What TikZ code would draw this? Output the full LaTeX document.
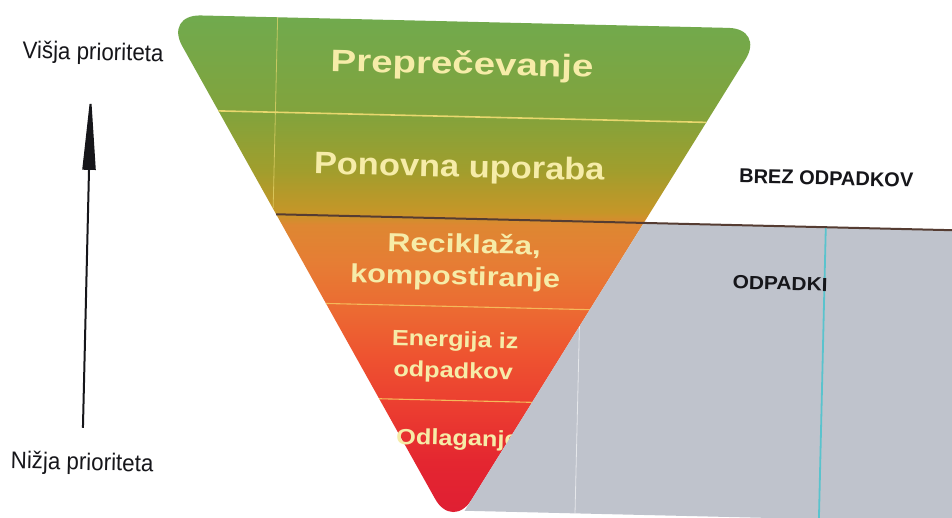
\documentclass[tikz,border=0pt]{standalone}
\usepackage{fontspec}
\setmainfont{Liberation Sans}
\usetikzlibrary{arrows.meta}
\definecolor{gA}{RGB}{112,170,78}
\definecolor{gB}{RGB}{130,163,60}
\definecolor{gC}{RGB}{160,158,45}
\definecolor{gD}{RGB}{198,150,40}
\definecolor{oA}{RGB}{222,135,50}
\definecolor{oB}{RGB}{230,125,52}
\definecolor{oC}{RGB}{236,105,50}
\definecolor{rA}{RGB}{238,82,48}
\definecolor{rB}{RGB}{235,60,48}
\definecolor{rC}{RGB}{228,38,48}
\definecolor{rD}{RGB}{222,28,52}
\definecolor{bandtext}{RGB}{246,236,168}
\definecolor{greyfill}{RGB}{191,195,204}
\definecolor{darkline}{RGB}{85,60,50}
\definecolor{cyanline}{RGB}{90,195,205}
\definecolor{paleline}{RGB}{232,215,110}
\definecolor{warmline}{RGB}{245,185,90}
\definecolor{inkcol}{RGB}{22,22,26}
\pgfdeclareverticalshading{wastegrad}{100bp}{color(0bp)=(rD); color(25bp)=(rD); color(31.6bp)=(rC); color(36.6bp)=(rB); color(41.7bp)=(rA); color(46.1bp)=(oC); color(50.9bp)=(oB); color(54.6bp)=(oA); color(55.8bp)=(gD); color(60bp)=(gC); color(65.4bp)=(gB); color(75bp)=(gA); color(100bp)=(gA)}
\begin{document}
\begin{tikzpicture}[x=1pt,y=1pt,
  bandlbl/.style={font=\bfseries\fontsize{#1}{#1}\selectfont, text=bandtext, inner sep=0pt, anchor=base},
  sidelbl/.style={font=\fontsize{24}{24}\selectfont, text=inkcol, inner sep=0pt, anchor=base},
  zonelbl/.style={font=\bfseries\fontsize{#1}{#1}\selectfont, text=inkcol, inner sep=0pt, anchor=base},
  thinband/.style={draw=#1, line width=1.1pt},
  foldline/.style={draw=paleline, line width=0.8pt, opacity=0.7}]
\fill[white] (0,0) rectangle (952,-518);
\useasboundingbox (0,0) rectangle (952,-518);
\clip (0,0) rectangle (952,-518);
\begin{scope}[rotate around={-1.35:(476,-259)}, transform shape]
  % triangle corners
  \coordinate (tl) at (159,-22);
  \coordinate (tr) at (759.1,-22);
  \coordinate (ap) at (459,-530.7);
  % band separators
  \coordinate (s1a) at (215,-117);   \coordinate (s1b) at (703,-117);
  \coordinate (s2a) at (275.1,-219); \coordinate (s2b) at (1000,-219);
  \coordinate (s3a) at (327,-307);   \coordinate (s3b) at (591,-307);
  \coordinate (s4a) at (382.5,-401); \coordinate (s4b) at (535.5,-401);
  % grey area
  \coordinate (g1) at (642.9,-219);
  \coordinate (g2) at (1000,-219);
  \coordinate (g3) at (1000,-511);
  \coordinate (g4) at (470.6,-511);
  % folds
  \coordinate (f1a) at (272,-22);  \coordinate (f1b) at (272,-213);
  \coordinate (f2a) at (581,-324); \coordinate (f2b) at (581,-511);
  \coordinate (c1a) at (825,-219); \coordinate (c1b) at (825,-511);
  % arrow
  \coordinate (alo) at (87,-437);
  \coordinate (ahi) at (87,-101);

  \shade[shading=wastegrad, rounded corners=36pt] (tl) -- (tr) -- (ap) -- cycle;
  \draw[foldline] (f1a) -- (f1b);
  \draw[draw=paleline, line width=1.6pt] (s1a) -- (s1b);
  \draw[thinband=warmline] (s3a) -- (s3b);
  \draw[thinband=warmline] (s4a) -- (s4b);

  \node[bandlbl=31] (prep) at (457.5,-74.6) {\scalebox{1.24}[1]{Preprečevanje}};
  \node[bandlbl=31] (reuse) at (457.1,-177.4) {\scalebox{1.11}[1]{Ponovna uporaba}};
  \node[bandlbl=26] (recy1) at (463.9,-253.3) {\scalebox{1.22}[1]{Reciklaža,}};
  \node[bandlbl=26] (recy2) at (455.6,-285.5) {\scalebox{1.18}[1]{kompostiranje}};
  \node[bandlbl=22] (ener1) at (457.1,-347.5) {\scalebox{1.15}[1]{Energija iz}};
  \node[bandlbl=22] (ener2) at (455.8,-378.5) {\scalebox{1.15}[1]{odpadkov}};
  \node[bandlbl=22, anchor=base west] (disp) at (400.3,-445.9) {\scalebox{1.15}[1]{Odlaganje}};

  \fill[greyfill] (g1) -- (g2) -- (g3) -- (g4) -- cycle;
  \draw[draw=white, line width=0.8pt, opacity=0.6] (f2a) -- (f2b);
  \draw[draw=cyanline, line width=1.8pt] (c1a) -- (c1b);
  \draw[draw=darkline, line width=2pt] (s2a) -- (s2b);

  \node[zonelbl=20] (brez) at (824.3,-176.8) {BREZ ODPADKOV};
  \node[zonelbl=19] (odp) at (780.7,-282.9) {\scalebox{1.1}[1]{ODPADKI}};

  \node[sidelbl] (hi) at (88.3,-69) {\scalebox{0.93}[1]{Višja prioriteta}};
  \node[sidelbl] (lo) at (87,-479.3) {\scalebox{0.93}[1]{Nižja prioriteta}};
  \draw[draw=inkcol, line width=2pt, -{Triangle[length=78pt,width=13pt]}] (alo) -- (ahi);
\end{scope}
\end{tikzpicture}
\end{document}
